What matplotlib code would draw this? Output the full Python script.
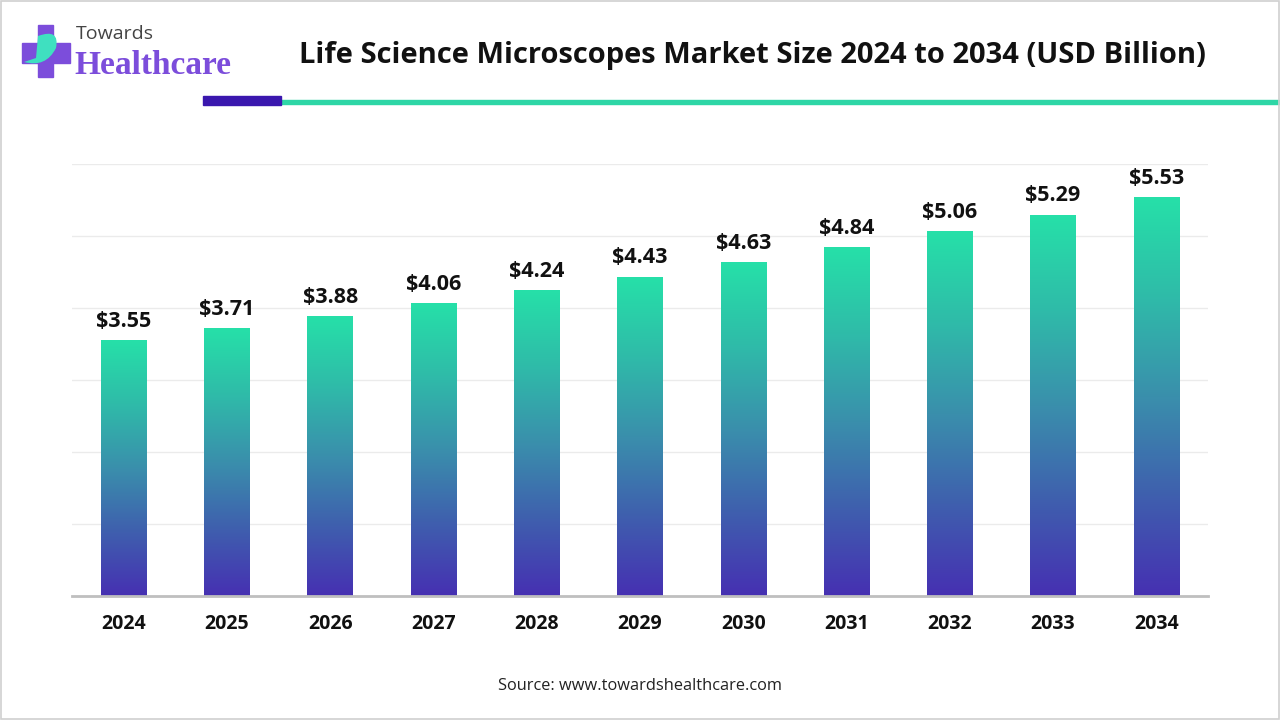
import numpy as np
import matplotlib
matplotlib.use("Agg")
import matplotlib.pyplot as plt
from matplotlib.colors import LinearSegmentedColormap
from matplotlib.patches import Rectangle, Polygon, PathPatch
from matplotlib.path import Path

years = ["2024", "2025", "2026", "2027", "2028", "2029", "2030", "2031", "2032", "2033", "2034"]
values = [3.55, 3.71, 3.88, 4.06, 4.24, 4.43, 4.63, 4.84, 5.06, 5.29, 5.53]
labels = ["$3.55", "$3.71", "$3.88", "$4.06", "$4.24", "$4.43", "$4.63", "$4.84", "$5.06", "$5.29", "$5.53"]
title = "Life Science Microscopes Market Size 2024 to 2034 (USD Billion)"
source = "Source: www.towardshealthcare.com"

plt.rcParams['font.family'] = ['Open Sans', 'DejaVu Sans']

fig = plt.figure(figsize=(12.8, 7.2), dpi=100)
W, H = 1280, 720

def fx(px):
    return px / W

def fy(py):
    return 1 - py / H

# axes: x 72..1208, y 164..596
ax = fig.add_axes([fx(72), fy(596), fx(1208) - fx(72), fy(164) - fy(596)])

cmap = LinearSegmentedColormap.from_list("g", ["#4630B2", "#3F5FAE", "#3A8FAC", "#2FBBA9", "#26E0A8"])
grad = np.linspace(0, 1, 256).reshape(-1, 1)
bw = 0.44
x = np.arange(len(years))
bars = ax.bar(x, values, width=bw, color="none", zorder=2)
for b, v in zip(bars, values):
    x0 = b.get_x()
    ax.imshow(grad, extent=[x0, x0 + bw, 0, v], origin="lower", cmap=cmap,
              aspect="auto", zorder=2, interpolation="bicubic")
ax.set_xlim(-0.5, len(years) - 0.5)
ax.set_ylim(0, 6)

for xi, v, lab in zip(x, values, labels):
    ax.text(xi, v + 0.12, lab, ha="center", va="bottom", fontsize=15.5,
            fontweight="bold", color="#111111", zorder=3)

ax.set_yticks(np.arange(1, 7))
ax.yaxis.grid(True, color="#EBEBEB", linewidth=1, zorder=0)
ax.set_axisbelow(True)
ax.tick_params(axis="y", left=False, labelleft=False)
ax.set_xticks(x)
ax.set_xticklabels(years, fontsize=14, fontweight="bold", color="#111111")
ax.tick_params(axis="x", length=0, pad=13)
for s in ["top", "right", "left"]:
    ax.spines[s].set_visible(False)
ax.spines["bottom"].set_color("#BFBFBF")
ax.spines["bottom"].set_linewidth(2)

# title
fig.text(fx(752), fy(56), title, ha="center", va="center", fontsize=21,
         fontweight="bold", color="#111111")

# decorative lines
fig.patches.append(Rectangle((fx(281), fy(104)), fx(1280) - fx(281), fy(100) - fy(104),
                             transform=fig.transFigure, color="#2ED6A6", zorder=1))
fig.patches.append(Rectangle((fx(203), fy(105)), fx(281) - fx(203), fy(96) - fy(105),
                             transform=fig.transFigure, color="#3A17AE", zorder=2))

# logo: cross
purple = "#7C4DDB"
cross = [(38, 25), (53, 25), (53, 43), (70, 43), (70, 63), (53, 63), (53, 77),
         (38, 77), (38, 63), (22, 63), (22, 43), (38, 43)]
fig.patches.append(Polygon([(fx(a), fy(b)) for a, b in cross], closed=True,
                           transform=fig.transFigure, color=purple, zorder=3))
# leaf
leaf = Path([(fx(a), fy(b)) for a, b in [(24, 62), (46, 68), (56, 48), (60, 28), (38, 36), (36, 58), (24, 62)]],
            [Path.MOVETO, Path.CURVE3, Path.LINETO, Path.CURVE3, Path.CURVE3, Path.LINETO, Path.CLOSEPOLY])
fig.patches.append(PathPatch(leaf, transform=fig.transFigure, facecolor="#3FE0C0",
                             edgecolor="none", zorder=4))
fig.text(fx(76), fy(34), "Towards", ha="left", va="center", fontsize=14,
         color="#444444", family=["Open Sans", "DejaVu Sans"])
fig.text(fx(74), fy(66), "Healthcare", ha="left", va="center", fontsize=24,
         fontweight="bold", color=purple, family=["Liberation Serif", "DejaVu Serif"])

# source
fig.text(fx(640), fy(686), source, ha="center", va="center", fontsize=11.8,
         color="#222222")

# border
fig.patches.append(Rectangle((0.0008, 0.0014), 0.9984, 0.9972, transform=fig.transFigure,
                             fill=False, edgecolor="#D0D0D0", linewidth=1.2, zorder=5))

fig.savefig("out.png", dpi=100, facecolor="white")
